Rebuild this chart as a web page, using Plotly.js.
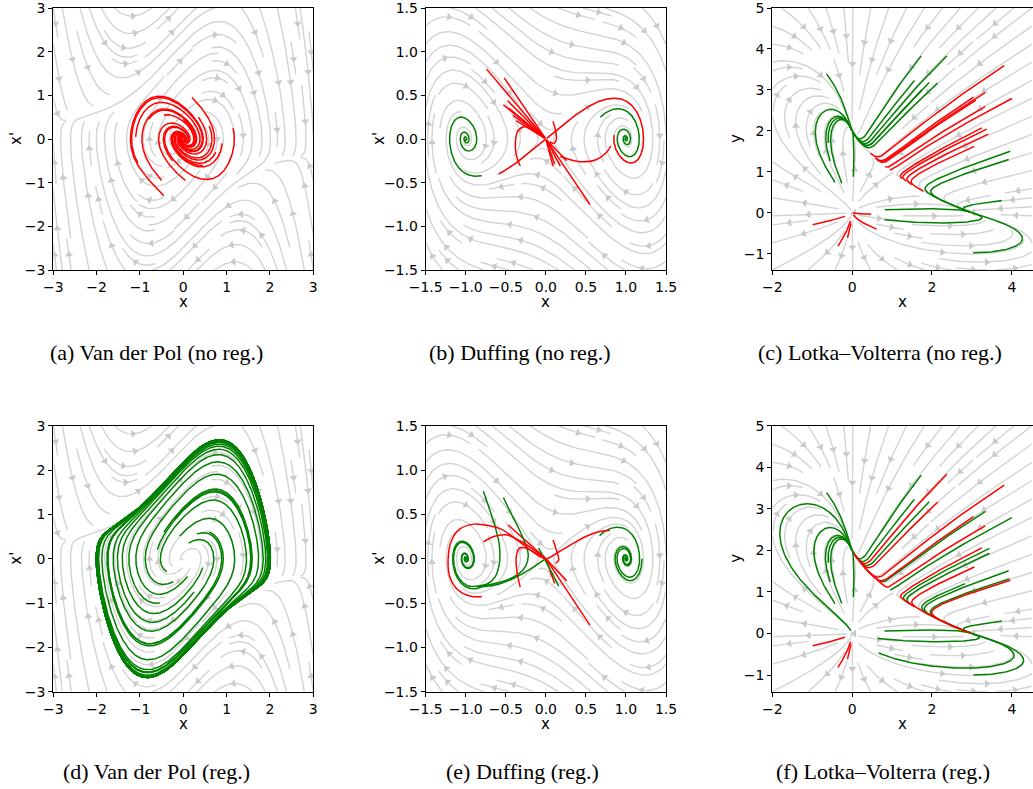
<!DOCTYPE html>
<html><head><meta charset="utf-8">
<script src="https://cdn.plot.ly/plotly-3.0.1.min.js"></script>
<style>body{margin:0;background:#fff}#chart{width:1033px;height:789px}</style>
</head><body><div id="chart"></div>
<script>
// ================= DATA =================
const captions = ["(a) Van der Pol (no reg.)","(b) Duffing (no reg.)","(c) Lotka\u2013Volterra (no reg.)",
                  "(d) Van der Pol (reg.)","(e) Duffing (reg.)","(f) Lotka\u2013Volterra (reg.)"];
const xTitles = ["x","x","x","x","x","x"];
const yTitles = ["x'","x'","y","x'","x'","y"];
const xRanges = [[-3,3],[-1.5,1.5],[-2,4.53],[-3,3],[-1.5,1.5],[-2,4.53]];
const yRanges = [[-3,3],[-1.5,1.5],[-1.4,5],[-3,3],[-1.5,1.5],[-1.4,5]];
const xTicks = [[-3,-2,-1,0,1,2,3],[-1.5,-1,-0.5,0,0.5,1,1.5],[-2,0,2,4],[-3,-2,-1,0,1,2,3],[-1.5,-1,-0.5,0,0.5,1,1.5],[-2,0,2,4]];
const yTicks = [[-3,-2,-1,0,1,2,3],[-1.5,-1,-0.5,0,0.5,1,1.5],[-1,0,1,2,3,4,5],[-3,-2,-1,0,1,2,3],[-1.5,-1,-0.5,0,0.5,1,1.5],[-1,0,1,2,3,4,5]];
const tickFormats = ["d",".1f","d","d",".1f","d"];

// system parameters
const vdpMu = 1.0;          // Van der Pol true system
const vdpNoRegMu = -0.8;    // learned (no reg.) model: decays to origin
const duffDelta = 0.5;      // Duffing damping
const lvX = [3,1,2];        // x' = x(3 - x - 2y)
const lvY = [2,1,1];        // y' = y(2 - x - y)

// trajectories: start x, start y, duration, colour, model ('t' = panel model, 'c' = collapse to origin)
// (a)
const aX0 = [0.2, 1.15, 0.75, 0.45, 0.05, -0.45, -0.5, -1.05, -1.1, -0.8, -0.45, 0.0, 0.35, 0.6, -0.25, 0.9];
const aY0 = [0.95, 0.25, -0.3, -0.6, -0.95, -1.3, -0.95, -0.55, 0.05, 0.45, 0.55, 0.45, 0.5, 0.3, -0.5, -0.1];
const aT  = [8,8,8,8,8,8,8,8,8,8,8,8,8,8,8,8];
const aC  = ["r","r","r","r","r","r","r","r","r","r","r","r","r","r","r","r"];
const aM  = ["t","t","t","t","t","t","t","t","t","t","t","t","t","t","t","t"];
// (b)
const bX0 = [0.01, -0.01, -0.74, -0.52, -0.53, -0.46, -0.41, -0.48, -0.37, 0.55, 0.18, 0.11, 0.26, 0.09, -0.8, 0.68];
const bY0 = [0.0078, -0.0078, 0.80, 0.70, 0.39, 0.35, 0.27, 0.44, 0.21, -0.75, -0.31, -0.29, -0.25, -0.31, -0.42, 0.25];
const bT  = [9.5, 5.3, 4, 4, 4, 4, 4, 4, 4, 4, 4, 4, 4, 4, 15, 15];
const bC  = ["r","r","r","r","r","r","r","r","r","r","r","r","r","r","g","g"];
const bM  = ["t","t","c","c","c","c","c","c","c","c","c","c","c","c","t","t"];
// (c)
const cX0 = [-0.64,-0.43,-0.26,-0.55,-0.6,0.03,1.73,2.37,1.56,1.93,2.14,1.75,3.96,3.92,3.75,0.82,0.81,3.03,
             3.81,4.0,3.33,3.04,3.1,3.33,3.25,3.37,3.41,3.06,-0.18,-0.04,-0.03,0.02,0.03];
const cY0 = [3.39,0.74,0.72,1.26,1.7,0.88,3.83,3.83,3.23,3.18,3.17,3.0,1.5,1.3,0.3,0.07,-0.17,-0.98,
             3.59,2.79,2.93,2.82,2.75,2.59,2.07,2.04,1.92,1.62,-0.09,-0.2,-0.26,-0.005,-0.06];
const cT  = [6,8,8,8,8,6,5,5,5,5,5,5,6,6,4,6,6,6,
             2.2,2.2,2.2,2.2,2.2,2.2,2.2,2.2,2.2,2.6,0.45,0.55,0.35,1.1,0.95];
const cC  = ["g","g","g","g","g","g","g","g","g","g","g","g","g","g","g","g","g","g",
             "r","r","r","r","r","r","r","r","r","r","r","r","r","r","r"];
const cM  = cC.map(() => "t");
// (d)
const dX0 = [-0.08, 0.12, 0.31, 0.6, -0.38, -0.23, -0.54, 0.1, 0.45, -0.6, 0.7, -0.2, 0.25, -0.45];
const dY0 = [0.51, 0.35, 0.56, 0.6, -0.29, -0.52, -1.0, -0.4, -0.2, 0.2, -0.6, 0.9, -0.75, 0.6];
const dT  = [20,20,20,20,20,20,20,20,20,20,20,20,20,20];
const dC  = dT.map(() => "g");
const dM  = dT.map(() => "t");
// (e)
const eX0 = [-0.86, -0.8, 0.67, 1.2, -0.47, 0.55, 0.26, 0.11];
const eY0 = [-0.31, -0.32, 0.26, 0.0, 0.38, -0.75, -0.25, -0.28];
const eT  = [15, 15, 15, 15, 4, 4, 4, 4];
const eC  = ["g","g","g","g","r","r","r","r"];
const eM  = ["t","t","t","t","c","c","c","c"];
// (f)
const fX0 = [-0.03,-0.64,-0.43,-0.26,-0.55,-0.6,0.03,1.73,1.93,1.56,3.33,4.0,3.44,3.44,3.92,3.94,2.83,3.75,0.81,0.64,0.66,3.04,
             2.37,2.14,3.81,3.04,3.33,3.25,3.06,3.96,-0.18,-0.04,-0.03];
const fY0 = [0.071,3.39,0.72,0.72,1.24,1.7,0.88,3.81,3.17,3.23,2.93,2.79,2.05,1.93,1.51,1.32,1.2,0.3,0.06,-0.12,-0.47,-1.0,
             3.83,3.16,3.57,2.81,2.59,2.06,1.6,1.28,-0.09,-0.2,-0.26];
const fT  = [10,6,8,8,8,8,6,5,5,5,2,2,2,2,6,6,6,4,6,6,6,6,
             4,4,4,4,6,4,8,4,0.45,0.55,0.35];
const fC  = ["g","g","g","g","g","g","g","g","g","g","g","g","g","g","g","g","g","g","g","g","g","g",
             "r","r","r","r","r","r","r","r","r","r","r"];
const fM  = fC.map(() => "t");

// curves (x lists, y lists, colour)
const bCurveX = [[-0.32,-0.37,-0.38,-0.35,-0.27,-0.15,-0.03],[0.09,0.12,0.13,0.1,0.05],[0.18,0.43,0.62,0.75,0.81]];
const bCurveY = [[-0.31,-0.18,-0.04,0.09,0.14,0.11,0.03],[0.2,0.1,-0.01,-0.05,-0.03],[-0.2,-0.26,-0.24,-0.16,-0.08]];
const bCurveC = ["r","r","r"];
const eCurveX = [[-0.8,-0.95,-1.1,-1.2,-1.22,-1.18,-1.08,-0.9,-0.7,-0.55,-0.3,-0.12,0.0,0.15,0.3,0.5,0.65,0.8],
                 [-0.78,-0.65,-0.5,-0.32,-0.15,-0.02],
                 [-0.32,-0.36,-0.37,-0.33,-0.25,-0.1,0.0],
                 [0.09,0.13,0.16,0.12],
                 [-0.78,-0.7,-0.63,-0.58,-0.58,-0.63,-0.72,-0.86],
                 [-0.53,-0.44,-0.36,-0.27,-0.22,-0.25,-0.35,-0.55,-0.8],
                 [-0.09,0.0,0.08,0.16],
                 [-0.02,-0.2,-0.4,-0.6,-0.85]];
const eCurveY = [[-0.43,-0.42,-0.35,-0.2,0.0,0.2,0.33,0.39,0.37,0.33,0.17,0.05,0.0,0.07,0.15,0.25,0.3,0.32],
                 [0.19,0.25,0.27,0.2,0.1,0.02],
                 [-0.32,-0.15,0.02,0.12,0.12,0.05,0.0],
                 [0.21,0.1,-0.02,-0.05],
                 [0.76,0.55,0.35,0.15,-0.05,-0.2,-0.28,-0.31],
                 [0.69,0.52,0.38,0.2,0.05,-0.08,-0.18,-0.26,-0.31],
                 [0.12,-0.03,-0.17,-0.31],
                 [-0.01,-0.12,-0.22,-0.29,-0.32]];
const eCurveC = ["r","r","r","r","g","g","g","g"];

// ================= FIELDS =================
const vdp = mu => (x,y) => [y, mu*(1-x*x)*y - x];
const duff = d => (x,y) => [y, x - x*x*x - d*y];
const lv = (x,y) => [x*(lvX[0]-lvX[1]*x-lvX[2]*y), y*(lvY[0]-lvY[1]*x-lvY[2]*y)];
const collapse = (x,y) => [-x, -y];
const streamFields = [vdp(vdpMu), duff(duffDelta), lv, vdp(vdpMu), duff(duffDelta), lv];
const trajFields = [vdp(vdpNoRegMu), duff(duffDelta), lv, vdp(vdpMu), duff(duffDelta), lv];
const trajSets = [[aX0,aY0,aT,aC,aM],[bX0,bY0,bT,bC,bM],[cX0,cY0,cT,cC,cM],[dX0,dY0,dT,dC,dM],[eX0,eY0,eT,eC,eM],[fX0,fY0,fT,fC,fM]];
const curveSets = [null,[bCurveX,bCurveY,bCurveC],null,null,[eCurveX,eCurveY,eCurveC],null];

// panel boxes in pixels (left, right, top, bottom)
const W = 1033, H = 789;
const boxes = [[53.3,313.3,8,270],[425.7,666,8,270],[772.3,1033,8,270],
               [53.3,313.3,425.7,691.7],[425.7,666,425.7,691.7],[772.3,1033,425.7,691.7]];

// ================= STREAMPLOT (matplotlib-like) =================
function streamplot(F, xr, yr, nm) {
  const Wd = xr[1]-xr[0], Hd = yr[1]-yr[0];
  const mask = new Uint8Array(nm*nm);
  const lines = [];
  const ds = 0.2/nm;
  function vel(u,v){
    const f = F(xr[0]+u*Wd, yr[0]+v*Hd);
    const du = f[0]/Wd, dv = f[1]/Hd, s = Math.hypot(du,dv);
    if (!(s>1e-12)) return null;
    return [du/s, dv/s];
  }
  const cellOf = (u,v) => [Math.round(u*(nm-1)), Math.round(v*(nm-1))];
  function run(u0,v0,dir,state){
    let u=u0, v=v0, s=0; const pts=[];
    let cur = cellOf(u0,v0);
    const edge = (k) => {
      const dx=dir*k[0], dy=dir*k[1];
      let t=Infinity;
      if(dx>0) t=Math.min(t,(1-u)/dx); if(dx<0) t=Math.min(t,-u/dx);
      if(dy>0) t=Math.min(t,(1-v)/dy); if(dy<0) t=Math.min(t,-v/dy);
      if (t<=ds && t>0) { pts.push([u+dx*t, v+dy*t]); s+=t; }
    };
    while (s < 4) {
      const k1 = vel(u,v); if(!k1) break;
      const um=u+dir*0.5*ds*k1[0], vm=v+dir*0.5*ds*k1[1];
      if (um<0||um>1||vm<0||vm>1) { edge(k1); break; }
      const k2 = vel(um,vm); if(!k2) break;
      const un=u+dir*ds*k2[0], vn=v+dir*ds*k2[1];
      if (un<0||un>1||vn<0||vn>1) { edge(k2); break; }
      const c = cellOf(un,vn);
      if (c[0]!==cur[0]||c[1]!==cur[1]) {
        const idx=c[1]*nm+c[0];
        if (mask[idx]) break;
        mask[idx]=1; state.push(idx); cur=c;
      }
      u=un; v=vn; s+=ds; pts.push([u,v]);
    }
    return [s, pts];
  }
  let x=0,y=0,xfirst=0,yfirst=1,xlast=nm-1,ylast=nm-1,dirn='right';
  for (let i=0;i<nm*nm;i++){
    const idx0 = y*nm+x;
    if (!mask[idx0]) {
      const u0 = x/(nm-1), v0 = y/(nm-1);
      const state=[idx0]; mask[idx0]=1;
      const b = run(u0,v0,-1,state);
      const f = run(u0,v0,1,state);
      if (b[0]+f[0] > 0.1) {
        const pts = b[1].slice().reverse().concat([[u0,v0]], f[1]);
        lines.push(pts.map(p=>[xr[0]+p[0]*Wd, yr[0]+p[1]*Hd]));
      } else { for (const k of state) mask[k]=0; }
    }
    if (dirn==='right'){ x++; if (x>=xlast){ xlast--; dirn='up'; } }
    else if (dirn==='up'){ y++; if (y>=ylast){ ylast--; dirn='left'; } }
    else if (dirn==='left'){ x--; if (x<=xfirst){ xfirst++; dirn='down'; } }
    else { y--; if (y<=yfirst){ yfirst++; dirn='right'; } }
  }
  return lines;
}

function integrate(F, x0, y0, T) {
  const h = 0.002, n = Math.max(1, Math.ceil(Math.abs(T)/h)), dt = T/n;
  let x=x0, y=y0; const xs=[x], ys=[y];
  for (let i=1;i<=n;i++){
    const k1=F(x,y), k2=F(x+0.5*dt*k1[0], y+0.5*dt*k1[1]);
    const k3=F(x+0.5*dt*k2[0], y+0.5*dt*k2[1]), k4=F(x+dt*k3[0], y+dt*k3[1]);
    x += dt*(k1[0]+2*k2[0]+2*k3[0]+k4[0])/6;
    y += dt*(k1[1]+2*k2[1]+2*k3[1]+k4[1])/6;
    if (!isFinite(x)||!isFinite(y)||Math.abs(x)>50||Math.abs(y)>50) break;
    if (i%4===0 || i===n){ xs.push(x); ys.push(y); }
  }
  return [xs, ys];
}

// ================= BUILD FIGURE =================
const data = [], annotations = [];
const layout = {width:W, height:H, margin:{l:0,r:0,t:0,b:0}, showlegend:false,
  paper_bgcolor:'#fff', plot_bgcolor:'#fff', annotations};
const colorMap = {r:'#ff0000', g:'#008000'};

for (let p=0;p<6;p++){
  const [L,R,T,B] = boxes[p];
  const ax = p===0 ? '' : String(p+1);
  const xa = 'x'+ax, ya = 'y'+ax;
  const axCommon = {showline:true, mirror:true, linecolor:'#000', linewidth:1, ticks:'outside', ticklen:4,
    tickwidth:1, tickcolor:'#000', showgrid:false, zeroline:false, fixedrange:true, ticklabeloverflow:'allow',
    tickfont:{family:'DejaVu Sans', size:14, color:'#000'}};
  layout['xaxis'+ax] = Object.assign({}, axCommon, {domain:[L/W, R/W], anchor:ya, range:xRanges[p],
    tickmode:'array', tickvals:xTicks[p], tickformat:tickFormats[p]});
  layout['yaxis'+ax] = Object.assign({}, axCommon, {domain:[1-B/H, 1-T/H], anchor:xa, range:yRanges[p],
    tickmode:'array', tickvals:yTicks[p], tickformat:tickFormats[p]});

  // streamlines
  const sxr = p%3===2 ? [-2,4.5] : xRanges[p];
  const lines = streamplot(streamFields[p], sxr, yRanges[p], 30);
  const lx=[], ly=[], axx=[], ayy=[], aang=[];
  const kx = (R-L)/(xRanges[p][1]-xRanges[p][0]), ky = (B-T)/(yRanges[p][1]-yRanges[p][0]);
  for (const ln of lines){
    for (let i=0;i<ln.length;i+=2){ lx.push(ln[i][0]); ly.push(ln[i][1]); }
    lx.push(ln[ln.length-1][0]); ly.push(ln[ln.length-1][1]);
    lx.push(null); ly.push(null);
    const cum=[0];
    for (let i=1;i<ln.length;i++) cum.push(cum[i-1]+Math.hypot(ln[i][0]-ln[i-1][0], ln[i][1]-ln[i-1][1]));
    const half = cum[cum.length-1]/2;
    let n = cum.findIndex(c=>c>=half); if (n<0) n=0; if (n>=ln.length-1) n=ln.length-2;
    const dx = ln[n+1][0]-ln[n][0], dy = ln[n+1][1]-ln[n][1];
    axx.push(ln[n][0]); ayy.push(ln[n][1]);
    aang.push(Math.atan2(dx*kx, dy*ky)*180/Math.PI);
  }
  data.push({type:'scatter', mode:'lines', x:lx, y:ly, xaxis:xa, yaxis:ya, hoverinfo:'skip',
    line:{color:'#d3d3d3', width:1.4}, connectgaps:false});
  data.push({type:'scatter', mode:'markers', x:axx, y:ayy, xaxis:xa, yaxis:ya, hoverinfo:'skip',
    marker:{symbol:'triangle-up', size:7, angle:aang, color:'#cacaca', line:{width:0}}});

  // integrated trajectories
  const [X0,Y0,TT,CC,MM] = trajSets[p];
  for (const col of ['g','r']){
    const tx=[], ty=[];
    for (let i=0;i<X0.length;i++){
      if (CC[i]!==col) continue;
      const F = MM[i]==='c' ? collapse : trajFields[p];
      const [xs,ys] = integrate(F, X0[i], Y0[i], TT[i]);
      for (let k=0;k<xs.length;k++){ tx.push(xs[k]); ty.push(ys[k]); }
      tx.push(null); ty.push(null);
    }
    if (tx.length) data.push({type:'scatter', mode:'lines', x:tx, y:ty, xaxis:xa, yaxis:ya, hoverinfo:'skip',
      line:{color:colorMap[col], width:1.5}, connectgaps:false});
  }
  // curves
  if (curveSets[p]){
    const [CX,CY,CCc] = curveSets[p];
    for (const col of ['g','r']){
      const tx=[], ty=[];
      for (let i=0;i<CX.length;i++){
        if (CCc[i]!==col) continue;
        tx.push(...CX[i], null); ty.push(...CY[i], null);
      }
      if (tx.length) data.push({type:'scatter', mode:'lines', x:tx, y:ty, xaxis:xa, yaxis:ya, hoverinfo:'skip',
        line:{color:colorMap[col], width:1.5, shape:'spline', smoothing:1}, connectgaps:false});
    }
  }

  // axis titles
  const cx = (L+R)/2, cy = (T+B)/2;
  annotations.push({xref:'paper', yref:'paper', x:cx/W, y:1-(B+32)/H, text:xTitles[p], showarrow:false,
    xanchor:'center', yanchor:'middle', font:{family:'DejaVu Sans', size:15, color:'#000'}});
  const ylx = p%3===0 ? 16 : (p%3===1 ? 379 : 736);
  annotations.push({xref:'paper', yref:'paper', x:ylx/W, y:1-cy/H, text:yTitles[p], showarrow:false, textangle:-90,
    xanchor:'center', yanchor:'middle', font:{family:'DejaVu Sans', size:15, color:'#000'}});
}
const capX = [156, 520, 880, 156, 522, 883];
const capY = [352, 352, 352, 771, 771, 771];
for (let p=0;p<6;p++){
  annotations.push({xref:'paper', yref:'paper', x:capX[p]/W, y:1-capY[p]/H, text:captions[p], showarrow:false,
    xanchor:'center', yanchor:'middle', font:{family:'Liberation Serif', size:22, color:'#000'}});
}
Plotly.newPlot('chart', data, layout, {staticPlot:true, displayModeBar:false});
</script></body></html>
